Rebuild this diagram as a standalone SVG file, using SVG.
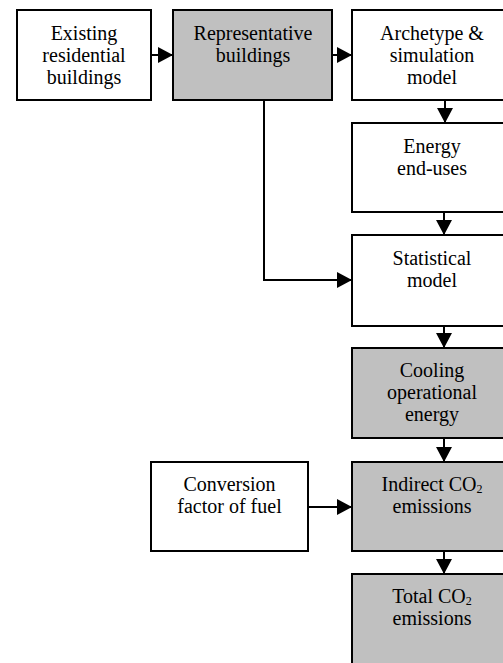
<svg xmlns="http://www.w3.org/2000/svg" width="503" height="663" viewBox="0 0 503 663">
<style>
.box{stroke:#000;stroke-width:2;fill:#fff}
.gray{fill:#c0c0c0}
.t{font-family:"Liberation Serif","Times New Roman",serif;font-size:20px;fill:#000;text-anchor:middle}
.sub{font-size:12px}
.c{stroke:#000;stroke-width:2;fill:none}
</style>
<defs>
<marker id="ah" markerUnits="userSpaceOnUse" markerWidth="16" markerHeight="18" refX="15" refY="8" orient="auto">
<path d="M0,0 L15,8 L0,16 Z" fill="#000"/>
</marker>
</defs>
<rect width="503" height="663" fill="#fff"/>
<g id="connectors">
<line class="c" x1="151" y1="55" x2="173" y2="55" marker-end="url(#ah)"/>
<line class="c" x1="332" y1="55" x2="352" y2="55" marker-end="url(#ah)"/>
<line class="c" x1="445" y1="100" x2="445" y2="123" marker-end="url(#ah)"/>
<line class="c" x1="444" y1="212" x2="444" y2="235" marker-end="url(#ah)"/>
<polyline class="c" points="264,100 264,280 352,280" marker-end="url(#ah)"/>
<line class="c" x1="444" y1="326" x2="444" y2="348" marker-end="url(#ah)"/>
<line class="c" x1="444" y1="438" x2="444" y2="462" marker-end="url(#ah)"/>
<line class="c" x1="308" y1="507" x2="352" y2="507" marker-end="url(#ah)"/>
<line class="c" x1="444" y1="551" x2="444" y2="574" marker-end="url(#ah)"/>
</g>
<g id="existing">
<rect class="box" x="17" y="10" width="134" height="90"/>
<text class="t" x="84" y="40">Existing</text>
<text class="t" x="84" y="62">residential</text>
<text class="t" x="84" y="84">buildings</text>
</g>
<g id="representative">
<rect class="box gray" x="173" y="10" width="159" height="90"/>
<text class="t" x="253" y="40">Representative</text>
<text class="t" x="253" y="62">buildings</text>
</g>
<g id="archetype">
<rect class="box" x="352" y="10" width="160" height="90"/>
<text class="t" x="432" y="40">Archetype &amp;</text>
<text class="t" x="432" y="62">simulation</text>
<text class="t" x="432" y="84">model</text>
</g>
<g id="energy">
<rect class="box" x="352" y="123" width="160" height="89"/>
<text class="t" x="432" y="153">Energy</text>
<text class="t" x="432" y="175">end-uses</text>
</g>
<g id="statistical">
<rect class="box" x="352" y="235" width="160" height="91"/>
<text class="t" x="432" y="265">Statistical</text>
<text class="t" x="432" y="287">model</text>
</g>
<g id="cooling">
<rect class="box gray" x="352" y="348" width="160" height="90"/>
<text class="t" x="432" y="377">Cooling</text>
<text class="t" x="432" y="399">operational</text>
<text class="t" x="432" y="421">energy</text>
</g>
<g id="conversion">
<rect class="box" x="151" y="462" width="157" height="89"/>
<text class="t" x="229.5" y="491">Conversion</text>
<text class="t" x="229.5" y="513">factor of fuel</text>
</g>
<g id="indirect">
<rect class="box gray" x="352" y="462" width="160" height="89"/>
<text class="t" x="432" y="491">Indirect CO<tspan class="sub" dy="2">2</tspan></text>
<text class="t" x="432" y="513">emissions</text>
</g>
<g id="total">
<rect class="box gray" x="352" y="574" width="160" height="110"/>
<text class="t" x="432" y="603">Total CO<tspan class="sub" dy="2">2</tspan></text>
<text class="t" x="432" y="625">emissions</text>
</g>
</svg>
